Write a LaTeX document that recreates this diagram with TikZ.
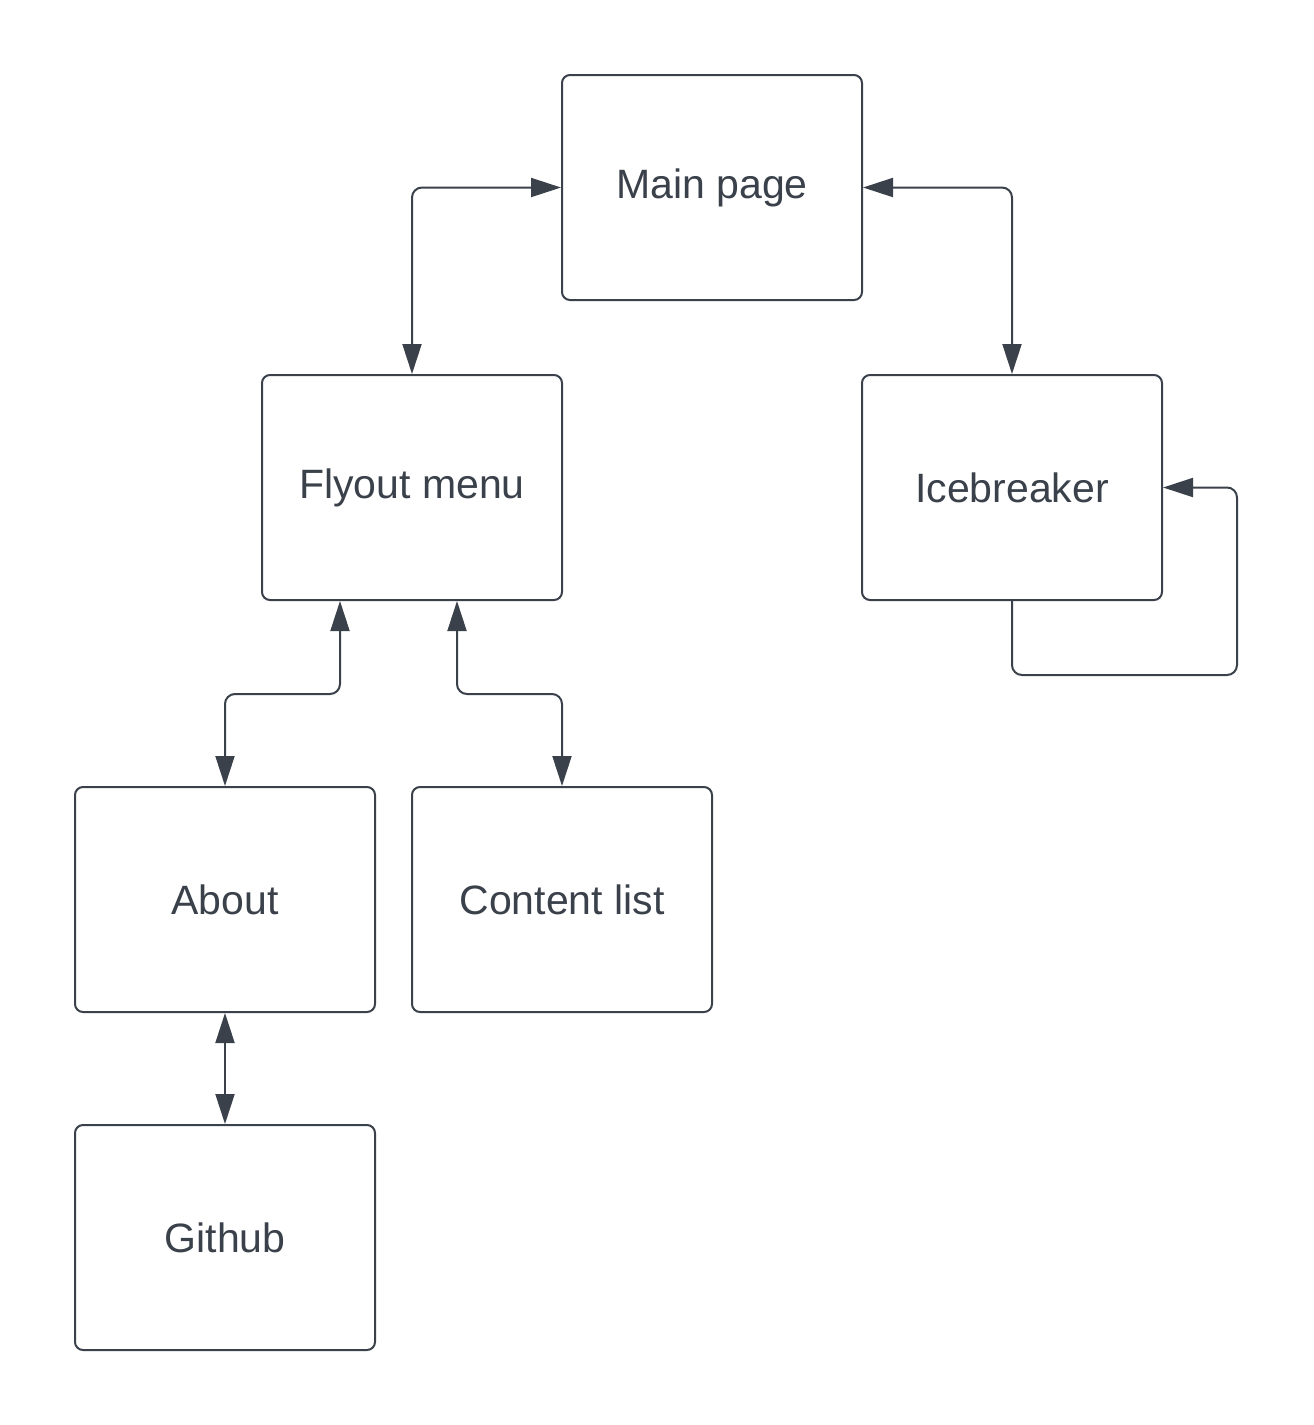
\documentclass[tikz,border=0pt]{standalone}
\usepackage{fontspec}
\setmainfont{Liberation Sans}
\usetikzlibrary{arrows.meta,calc}
\definecolor{ink}{RGB}{58,65,74}
\begin{document}
\begin{tikzpicture}[x=1pt,y=-1pt,
  box/.style={draw=ink,line width=2pt,rounded corners=8pt,minimum width=300pt,minimum height=225pt,inner sep=0pt,text=ink,font=\fontsize{41}{48}\selectfont},
  conn/.style={draw=ink,line width=2pt,rounded corners=10pt,{Triangle[length=30pt,width=19pt]}-{Triangle[length=30pt,width=19pt]}},
  conn1/.style={draw=ink,line width=2pt,rounded corners=10pt,-{Triangle[length=30pt,width=19pt]}}]
\useasboundingbox (0,0) rectangle (1314,1425);
\node[box] (main) at (712,187.5) {Main page};
\node[box] (fly) at (412,487.5) {Flyout menu};
\node[box] (ice) at (1012,487.5) {Icebreaker};
\node[box] (about) at (225,899.5) {About};
\node[box] (content) at (562,899.5) {Content list};
\node[box] (github) at (225,1237.5) {Github};
\coordinate (loop) at (1237,675);
\draw[conn] (fly.north) |- (main.west);
\draw[conn] (main.east) -| (ice.north);
\draw[conn1] (ice.south) |- (loop) |- (ice.east);
\draw[conn] ([xshift=-72pt]fly.south) -- ++(0,93) -| (about.north);
\draw[conn] ([xshift=45pt]fly.south) -- ++(0,93) -| (content.north);
\draw[conn] (about.south) -- (github.north);
\end{tikzpicture}
\end{document}
